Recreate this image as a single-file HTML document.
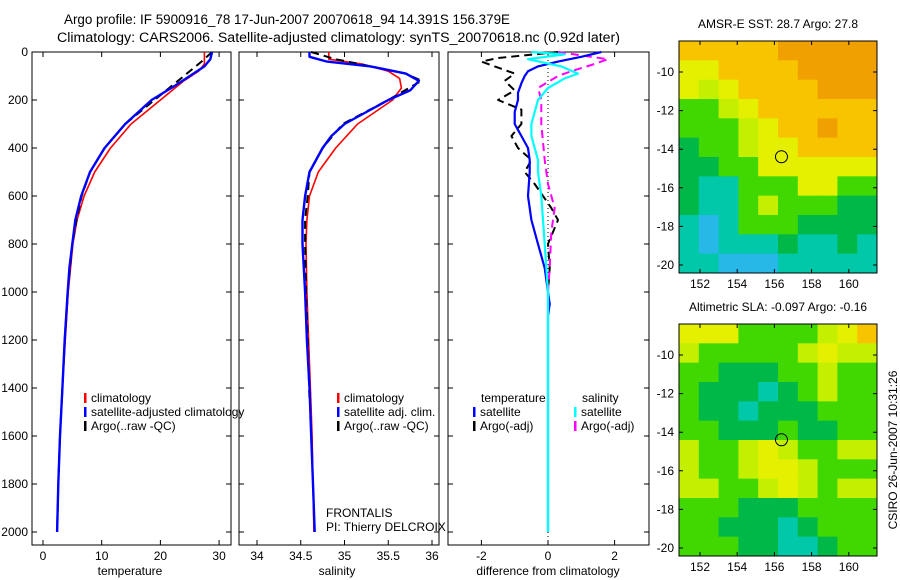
<!DOCTYPE html>
<html><head><meta charset="utf-8"><style>
body{margin:0;background:#fff;}
svg{display:block;font-family:"Liberation Sans",sans-serif;}
text{font-size:12px;fill:#000;}
</style></head><body>
<svg id="fig" width="900" height="580" viewBox="0 0 900 580">
<text x="64" y="24" textLength="446" lengthAdjust="spacingAndGlyphs" style="font-size:13.5px">Argo profile: IF 5900916_78 17-Jun-2007 20070618_94 14.391S 156.379E</text>
<text x="57" y="42" textLength="563" lengthAdjust="spacingAndGlyphs" style="font-size:13.5px">Climatology: CARS2006. Satellite-adjusted climatology: synTS_20070618.nc (0.92d later)</text>
<g id="g"></g>
</svg>
<script>
// ---- data ----
const tDepthBlue=[0,30,60,100,140,200,300,400,500,600,700,800,900,1000,1200,1400,1600,1800,2000];
const tBlue=[28.8,28.5,27.5,25,22.5,18.5,14,10.5,8,6.5,5.5,5,4.5,4.2,3.7,3.3,2.9,2.6,2.4];
const tDepthRed=[0,50,80,120,200,300,400,500,600,700,800,1000,1200,1400,1600,1800,2000];
const tRed=[27.5,27.5,26.5,24,20,15,11.5,8.8,7,5.8,5.1,4.3,3.8,3.3,2.9,2.6,2.4];
const tDepthArgo=[0,40,100,200,300,400,500,600,700,800,1000,1200,1400,1600,1800,2000];
const tArgo=[28.8,27,24,19,14,10.5,8,6.6,5.7,5,4.2,3.7,3.3,2.9,2.6,2.4];
const sDepthBlue=[0,20,40,60,90,120,160,200,250,300,350,400,500,600,700,800,1000,1200,1400,1600,1800,2000];
const sBlue=[34.6,34.6,34.8,35.3,35.7,35.85,35.75,35.5,35.25,35.0,34.85,34.75,34.6,34.55,34.52,34.52,34.55,34.57,34.6,34.62,34.64,34.66];
const sDepthRed=[0,30,50,80,110,150,200,250,300,400,500,600,700,800,1000,1200,1400,1600,1800,2000];
const sRed=[34.82,34.82,35.2,35.5,35.63,35.65,35.55,35.35,35.15,34.9,34.7,34.6,34.57,34.56,34.57,34.59,34.61,34.63,34.64,34.65];
const sDepthArgo=[0,30,60,90,120,200,300,400,500,600,700,800,1000,1200,1450];
const sArgo=[34.62,34.9,35.3,35.7,35.88,35.5,34.98,34.75,34.6,34.58,34.55,34.55,34.56,34.58,34.6];
const dDepthTS=[0,20,40,60,80,100,130,170,200,250,300,350,400,450,500,600,700,800,900,1000,1050,1100,1500,2000];
const dTS=[1.6,1.0,0.3,-0.3,-0.6,-0.7,-0.8,-0.9,-0.9,-1.0,-1.0,-0.8,-0.6,-0.55,-0.55,-0.6,-0.5,-0.3,-0.1,0,0.05,0,0,0];
const dDepthTA=[0,25,40,60,90,120,160,200,240,300,350,400,450,500,550,650,700,800,900,1000];
const dTA=[0.3,-1.5,-2.0,-1.6,-1.0,-1.3,-1.0,-1.5,-0.8,-0.8,-1.1,-0.9,-0.5,-0.7,-0.4,0.1,0.3,0.0,0.05,0];
const dDepthSS=[0,10,30,60,90,110,150,200,250,300,350,400,450,500,600,800,1000,2000];
const dSS=[-0.5,0.5,-0.6,0.4,0.9,0.5,0.0,-0.3,-0.4,-0.5,-0.5,-0.4,-0.3,-0.3,-0.2,-0.1,0,0];
const dDepthSA=[0,30,50,80,100,150,200,300,450,550,650,750,900,1000,2000];
const dSA=[0.3,1.8,1.4,0.7,0.3,-0.3,-0.2,-0.2,-0.1,0,0.2,0.1,0.05,0,0];
const depthTicks=[0,200,400,600,800,1000,1200,1400,1600,1800,2000];
const tTicks=[0,10,20,30];
const sTicks=[34,34.5,35,35.5,36];
const dTicks=[-2,0,2];
const lonTicks=[152,154,156,158,160];
const latTicks=[-10,-12,-14,-16,-18,-20];
const sstGrid=["oooooOOOOO","YYooooOOOO","YyYooooOOO","GGyYoooooo","GGGyYooOoo","gGGyYYoooo","ggGGYYYYYY","gccGGGYYGG","gccGyGGGgg","cbcGGGgggg","cbcccgccgc","ccbbbccccc"];
const slaGrid=["YYYGGGGyYo","yGGGGGyYyy","GGgggGGyGG","GgggcgGyGG","GggcgggGGG","GGgggGggGG","yGGyYyGGyy","yGGyYYyGGG","yyGGyYyGyy","GGGgggGGGG","GGgggcgGGG","GGGggccgGG"];
const palette={O:"#f0a000",o:"#f8c400",Y:"#e4f000",y:"#c4f000",G:"#40d800",g:"#00b848",c:"#00c8a8",b:"#28b8e8"};

const NS="http://www.w3.org/2000/svg";
const root=document.getElementById('g');
function el(tag,attrs,txt){const e=document.createElementNS(NS,tag);for(const k in attrs)e.setAttribute(k,attrs[k]);if(txt!==undefined)e.textContent=txt;root.appendChild(e);return e;}
const Y0=52,YS=0.24;
const yD=d=>Y0+d*YS;
function panel(name,x0,x1,xs,ticks,lab,labx,showY){
  const r=el('rect',{x:x0,y:Y0,width:x1-x0,height:545-Y0,fill:'none',stroke:'#000','stroke-width':1});
  
  
  ticks.forEach(v=>{const x=xs(v);
    const t=el('path',{d:`M${x},545v-5M${x},${Y0}v5`,stroke:'#000'});
    
    
    const l=el('text',{x:x,y:560,'text-anchor':'middle'},String(v));
    
    });
  depthTicks.forEach(d=>{const y=yD(d);
    const t=el('path',{d:`M${x0},${y}h5M${x1},${y}h-5`,stroke:'#000'});
    
    
    if(showY){const l=el('text',{x:28,y:y+4,'text-anchor':'end'},String(d));
      
      }});
  const a=el('text',{x:labx,y:575,'text-anchor':'middle'},lab);
  
  
}
function line(name,xs,vals,depths,color,w,dash){
  const pts=vals.map((v,i)=>xs(v).toFixed(1)+','+yD(depths[i]).toFixed(1)).join(' ');
  const p=el('polyline',{points:pts,fill:'none',stroke:color,'stroke-width':w,'stroke-linejoin':'round'});
  if(dash)p.setAttribute('stroke-dasharray',dash);
  
  
}
function legend(name,x,y,color,label){
  const b=el('rect',{x:x,y:y-9,width:2.5,height:10,fill:color});
  
  
  const t=el('text',{x:x+7,y:y},label);
  
  
}
const xT=v=>43+v*5.87, xS=v=>257+(v-34)*87.5, xDf=v=>548+v*33.3;
panel('temperature-panel',32,231,xT,tTicks,'temperature',130,true);
panel('salinity-panel',239,439,xS,sTicks,'salinity',337,false);
panel('difference-panel',448,649,xDf,dTicks,'difference from climatology',548,false);
const zl=el('line',{x1:548,x2:548,y1:Y0,y2:545,stroke:'#000','stroke-dasharray':'1,3'});



line('temp-climatology-line',xT,tRed,tDepthRed,'#f00',1.6);
line('temp-argo-line',xT,tArgo,tDepthArgo,'#000',2,'8,5');
line('temp-satellite-line',xT,tBlue,tDepthBlue,'#00f',2.4);
line('sal-climatology-line',xS,sRed,sDepthRed,'#f00',1.6);
line('sal-argo-line',xS,sArgo,sDepthArgo,'#000',2,'8,5');
line('sal-satellite-line',xS,sBlue,sDepthBlue,'#00f',2.4);
line('diff-temp-argo-line',xDf,dTA,dDepthTA,'#000',2,'8,5');
line('diff-sal-argo-line',xDf,dSA,dDepthSA,'#f0f',2,'8,5');
line('diff-temp-satellite-line',xDf,dTS,dDepthTS,'#00f',2.2);
line('diff-sal-satellite-line',xDf,dSS,dDepthSS,'#0ff',2.2);

legend('legend-climatology',84,402,'#f00','climatology');
legend('legend-satellite-adjusted',84,416,'#00f','satellite-adjusted climatology');
legend('legend-argo',84,430,'#000','Argo(..raw -QC)');
legend('legend2-climatology',337,402,'#f00','climatology');
legend('legend2-satellite',337,416,'#00f','satellite adj. clim.');
legend('legend2-argo',337,430,'#000','Argo(..raw -QC)');
let t=el('text',{x:481,y:402},'temperature');


t=el('text',{x:582,y:402},'salinity');


legend('legend3-temp-satellite',473,416,'#00f','satellite');
legend('legend3-temp-argo',473,430,'#000','Argo(-adj)');
legend('legend3-sal-satellite',574,416,'#0ff','satellite');
legend('legend3-sal-argo',574,430,'#f0f','Argo(-adj)');
t=el('text',{x:326,y:517},'FRONTALIS');


t=el('text',{x:326,y:531},'PI: Thierry DELCROIX');



function map(name,top,grid,title){
  const L=679,R=877,B=top+232;
  const cw=(R-L)/10,ch=(B-top)/12;
  grid.forEach((row,i)=>{[...row].forEach((c,j)=>{
    const r=el('rect',{x:L+j*cw,y:top+i*ch,width:cw+0.5,height:ch+0.5,fill:palette[c]});
    
    });});
  const lx=v=>700+(v-152)*18.6, ly=v=>top+31+(-10-v)*19.3;
  const c=el('circle',{cx:lx(156.38),cy:ly(-14.39),r:6,fill:'none',stroke:'#000'});
  
  
  const f=el('rect',{x:L,y:top,width:R-L,height:B-top,fill:'none',stroke:'#000'});
  
  
  lonTicks.forEach(v=>{const x=lx(v);
    const k=el('path',{d:`M${x},${B}v-4M${x},${top}v4`,stroke:'#000'});
    
    
    const l=el('text',{x:x,y:B+15,'text-anchor':'middle'},String(v));
    
    });
  latTicks.forEach(v=>{const y=ly(v);
    const k=el('path',{d:`M${L},${y}h4M${R},${y}h-4`,stroke:'#000'});
    
    
    const l=el('text',{x:674,y:y+4,'text-anchor':'end'},String(v));
    
    });
  const tt=el('text',{x:778,y:top-13,'text-anchor':'middle'},title);
  
  
}
map('sst-map',41,sstGrid,'AMSR-E SST: 28.7 Argo: 27.8');
map('sla-map',324,slaGrid,'Altimetric SLA: -0.097 Argo: -0.16');
t=el('text',{x:0,y:0,transform:'translate(897,450) rotate(-90)','text-anchor':'middle'},'CSIRO 26-Jun-2007 10:31:26');


</script>
</body></html>
